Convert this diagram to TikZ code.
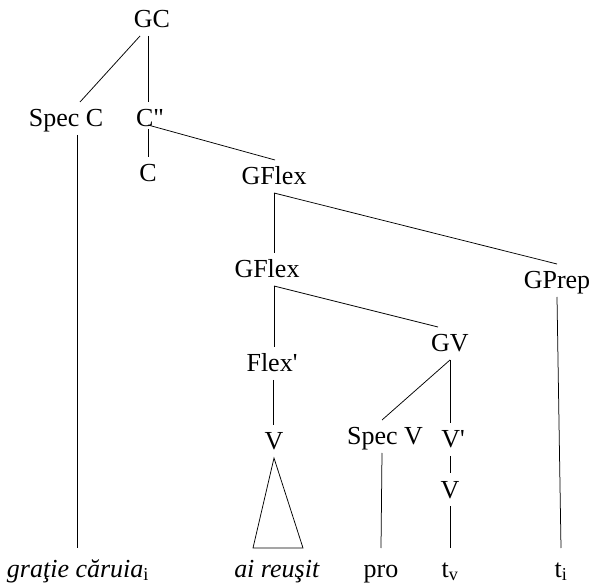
\documentclass[tikz,border=0pt]{standalone}
\usepackage{fontspec}
\setmainfont{Liberation Serif}
\usepackage{tikz}

\begin{document}
\begin{tikzpicture}[x=1pt,y=-1pt,line width=0.75pt,
    cat/.style={anchor=base,inner sep=0pt,outer sep=8pt,text height=17pt,text depth=0pt,
      font=\fontsize{26}{30}\selectfont},
    leaf/.style={cat,outer sep=12pt}]
        \useasboundingbox (0,0) rectangle (595,585);
        \node [cat] (gc) at (152,28) {GC}; % root
        \node [cat] (specc) at (66,127) {Spec C};
        \node [cat] (cbar) at (150,127) {C\textquotedbl};
        \node [cat] (c) at (148,182) {C};
        \node [cat] (gflexa) at (274,185) {GFlex}; % upper GFlex
        \node [cat] (gflexb) at (267,278) {GFlex}; % lower GFlex
        \node [cat] (gprep) at (557,289) {GPrep};
        \node [cat] (flexbar) at (272,372) {Flex\textquotesingle};
        \node [cat] (gv) at (450,352) {GV};
        \node [cat] (va) at (274,450) {V};
        \node [cat] (specv) at (385,445) {Spec V};
        \node [cat] (vbar) at (453,448) {V\textquotesingle};
        \node [cat] (vb) at (450,498) {V};
        % leaves
        \node [leaf] (gratie) at (78,577) {\textit{graţie căruia}\textsubscript{i}};
        \node [leaf] (airesit) at (277,577) {\textit{ai reuşit}};
        \node [leaf] (pro) at (381,577) {pro};
        \node [leaf] (tv) at (450,577) {t\textsubscript{v}};
        \node [leaf] (ti) at (561,577) {t\textsubscript{i}};
        % branches
        \draw ([xshift=-12pt]gc.south) -- ([xshift=14pt]specc.north);
        \draw ([xshift=-4pt]gc.south) -- ([xshift=-2pt]cbar.north);
        \draw ([xshift=-2pt,yshift=10pt]cbar.south) -- ([xshift=1pt]gflexa.north);
        \draw ([xshift=-2pt,yshift=6pt]cbar.south) -- (c.north);
        \draw ([xshift=11pt]specc.south) -- ([xshift=-1pt]gratie.north);
        \draw (gflexa.south) -- ([xshift=7pt]gflexb.north);
        \draw (gflexa.south) -- (gprep.north);
        \draw ([xshift=7pt]gflexb.south) -- ([xshift=2pt]flexbar.north);
        \draw ([xshift=7pt]gflexb.south) -- ([xshift=-12pt]gv.north);
        \draw ([xshift=1pt]flexbar.south) -- ([xshift=-1pt]va.north);
        \draw (gv.south) -- ([xshift=-3pt]specv.north);
        \draw (gv.south) -- ([xshift=-3pt]vbar.north);
        \draw (va.south) -- ([xshift=-24pt]airesit.north) -- ([xshift=26pt]airesit.north) -- cycle; % triangle
        \draw ([xshift=-3pt]specv.south) -- (pro.north);
        \draw ([xshift=-3pt]vbar.south) -- (vb.north);
        \draw (vb.south) -- (tv.north);
        \draw (gprep.south) -- (ti.north);
    \end{tikzpicture}
\end{document}
